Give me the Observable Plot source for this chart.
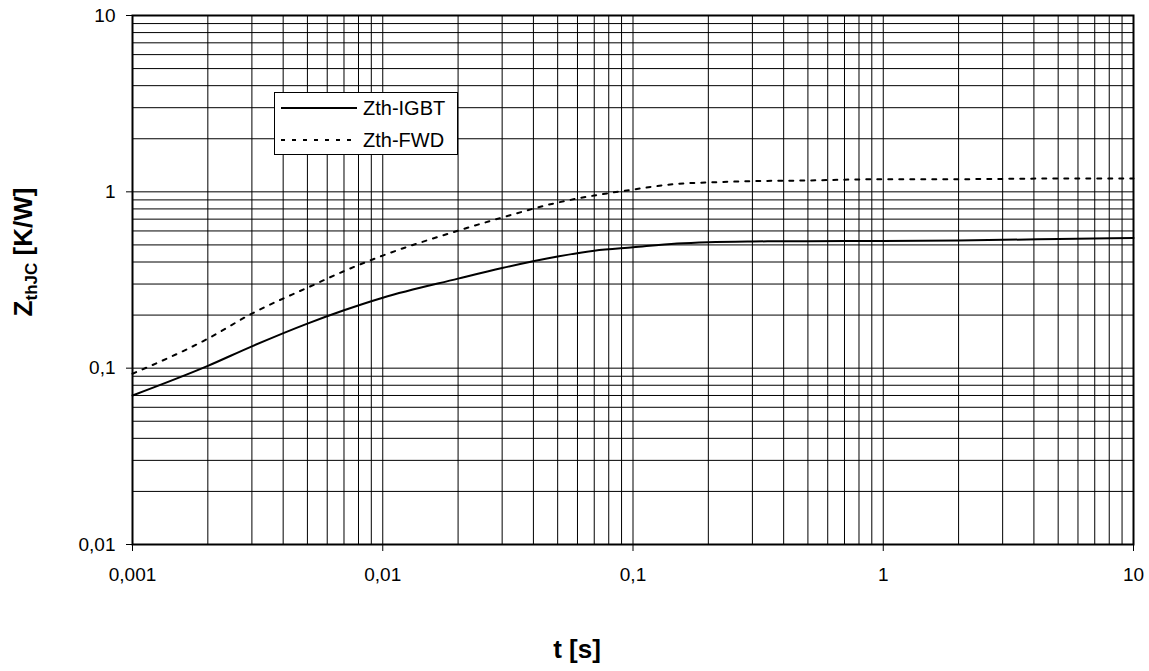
<!DOCTYPE html>
<html>
<head>
<meta charset="utf-8">
<script src="https://cdn.jsdelivr.net/npm/d3@7"></script>
<script src="https://cdn.jsdelivr.net/npm/@observablehq/plot@0.6"></script>
<style>
  html, body { margin: 0; padding: 0; background: #fff; }
  #chart { width: 1149px; height: 671px; }
</style>
</head>
<body>
<div id="chart"></div>
<script>
// Time axis values (s)
const tValues = [0.001, 0.002, 0.003, 0.005, 0.007, 0.01, 0.02, 0.03, 0.05, 0.07, 0.1, 0.15, 0.2, 0.3, 0.5, 1, 2, 5, 10];
// Zth-IGBT (K/W)
const zthIGBT = [0.070, 0.103, 0.133, 0.179, 0.213, 0.251, 0.322, 0.370, 0.430, 0.464, 0.485, 0.509, 0.518, 0.523, 0.525, 0.526, 0.530, 0.540, 0.548];
// Zth-FWD (K/W)
const zthFWD = [0.093, 0.147, 0.204, 0.286, 0.355, 0.435, 0.602, 0.715, 0.869, 0.953, 1.03, 1.11, 1.13, 1.15, 1.16, 1.18, 1.18, 1.19, 1.19];
// Series names
const seriesNames = ["Zth-IGBT", "Zth-FWD"];
// Major tick labels
const xTicks = [0.001, 0.01, 0.1, 1, 10];
const yTicks = [0.01, 0.1, 1, 10];

const fmt = d => String(d).replace(".", ",");

const rows = [];
tValues.forEach((t, i) => {
  rows.push({series: seriesNames[0], t, z: zthIGBT[i]});
  rows.push({series: seriesNames[1], t, z: zthFWD[i]});
});

function logGrid(lo, hi) {
  const out = [];
  for (let e = lo; e < hi; e++) for (let m = 1; m <= 9; m++) out.push(+(m + "e" + e));
  out.push(+("1e" + hi));
  return out;
}
const gridT = logGrid(-3, 1);
const gridZ = logGrid(-2, 1);

const chart = Plot.plot({
  width: 1149,
  height: 671,
  marginLeft: 132,
  marginRight: 16,
  marginTop: 15,
  marginBottom: 127,
  style: {fontFamily: "'Liberation Sans', Arial, sans-serif", fontSize: "19px", color: "#000", background: "#fff", overflow: "visible"},
  x: {type: "log", domain: [0.001, 10]},
  y: {type: "log", domain: [0.01, 10]},
  marks: [
    Plot.gridX(gridT, {stroke: "#000", strokeOpacity: 1, strokeWidth: 1}),
    Plot.gridY(gridZ, {stroke: "#000", strokeOpacity: 1, strokeWidth: 1}),
    Plot.axisX(xTicks, {tickFormat: fmt, tickSize: 7, tickPadding: 16, label: null, fontSize: 19}),
    Plot.axisY(yTicks, {tickFormat: fmt, tickSize: 6, tickPadding: 11, label: null, fontSize: 19}),
    Plot.frame({stroke: "#000", strokeWidth: 2}),
    Plot.line(rows.filter(d => d.series === seriesNames[0]), {x: "t", y: "z", stroke: "#000", strokeWidth: 2, curve: "monotone-x"}),
    Plot.line(rows.filter(d => d.series === seriesNames[1]), {x: "t", y: "z", stroke: "#000", strokeWidth: 2, strokeDasharray: "4,7", curve: "monotone-x"})
  ]
});
document.getElementById("chart").appendChild(chart);

const svg = d3.select(chart);
// Axis titles
svg.append("text")
  .attr("x", 577).attr("y", 658)
  .attr("text-anchor", "middle")
  .attr("font-weight", "bold").attr("font-size", 26)
  .attr("fill", "#000")
  .text("t [s]");

const yt = svg.append("text")
  .attr("transform", "translate(32,252) rotate(-90)")
  .attr("text-anchor", "middle")
  .attr("font-weight", "bold").attr("font-size", 26)
  .attr("fill", "#000");
yt.append("tspan").text("Z");
yt.append("tspan").attr("font-size", 17).attr("dy", 5).text("thJC");
yt.append("tspan").attr("dy", -5).text(" [K/W]");

// Legend
const lg = svg.append("g");
lg.append("rect").attr("x", 274.5).attr("y", 92.5).attr("width", 183).attr("height", 62)
  .attr("fill", "#fff").attr("stroke", "#000").attr("stroke-width", 1);
const items = [{name: seriesNames[0], dash: null, y: 108}, {name: seriesNames[1], dash: "4,7", y: 140}];
items.forEach(it => {
  lg.append("line").attr("x1", 281).attr("x2", 357).attr("y1", it.y).attr("y2", it.y)
    .attr("stroke", "#000").attr("stroke-width", 2).attr("stroke-dasharray", it.dash);
  lg.append("text").attr("x", 363).attr("y", it.y + 7).attr("font-size", 20)
    .attr("text-anchor", "start").attr("fill", "#000").text(it.name);
});
</script>
</body>
</html>
